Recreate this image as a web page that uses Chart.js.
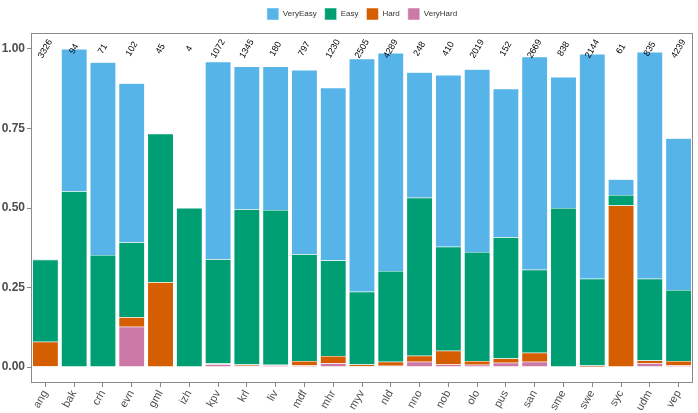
<!DOCTYPE html>
<html>
<head>
<meta charset="utf-8">
<script src="https://cdn.jsdelivr.net/npm/chart.js@4.4.1/dist/chart.umd.min.js"></script>
<style>
  html, body { margin: 0; padding: 0; background: #fff; }
  canvas { display: block; }
</style>
</head>
<body>
<canvas id="propChart" width="698" height="413"></canvas>
<script>
const languages = ['ang', 'bak', 'crh', 'evn', 'gml', 'izh', 'kpv', 'krl', 'liv', 'mdf', 'mhr', 'myv',
                   'nld', 'nno', 'nob', 'olo', 'pus', 'san', 'sme', 'swe', 'syc', 'udm', 'vep'];
const counts = ['3326', '94', '71', '102', '45', '4', '1072', '1345', '180', '797', '1230', '2505',
                '4289', '248', '410', '2019', '152', '2669', '838', '2144', '61', '835', '4239'];

// segment heights (proportions), bottom to top
const veryHard = [0.003, 0, 0, 0.127, 0, 0, 0.009, 0.004, 0.006, 0.005, 0.012, 0.003,
                  0.004, 0.017, 0.008, 0.007, 0.014, 0.017, 0, 0.001, 0, 0.011, 0.005];
const hard     = [0.077, 0, 0, 0.030, 0.267, 0, 0.002, 0.004, 0.001, 0.014, 0.023, 0.005,
                  0.013, 0.019, 0.043, 0.012, 0.013, 0.028, 0, 0.004, 0.508, 0.010, 0.014];
const easy     = [0.257, 0.553, 0.352, 0.235, 0.466, 0.5, 0.328, 0.488, 0.487, 0.336, 0.300, 0.229,
                  0.285, 0.496, 0.327, 0.343, 0.381, 0.261, 0.5, 0.273, 0.033, 0.257, 0.223];
const veryEasy = [0.003, 0.447, 0.606, 0.500, 0, 0, 0.621, 0.449, 0.451, 0.579, 0.543, 0.732,
                  0.685, 0.395, 0.540, 0.574, 0.467, 0.669, 0.412, 0.706, 0.049, 0.712, 0.477];

const yTicks = [0, 0.25, 0.5, 0.75, 1];

const sans = '"Liberation Sans", Arial, Helvetica, sans-serif';

// n of each language, written at y = 1
const countLabels = {
    id: 'countLabels',
    afterDatasetsDraw(chart) {
        const { ctx, scales: { x, y } } = chart;
        ctx.save();
        ctx.font = '9px ' + sans;
        ctx.fillStyle = '#000';
        ctx.textAlign = 'center';
        ctx.textBaseline = 'middle';
        counts.forEach((c, i) => {
            ctx.save();
            ctx.translate(x.getPixelForValue(i), y.getPixelForValue(1));
            ctx.rotate(-Math.PI / 3);
            ctx.fillText(c, 0, 0);
            ctx.restore();
        });
        ctx.restore();
    }
};

const panelBorder = {
    id: 'panelBorder',
    beforeLayout(chart) {
        // fixed legend band so the panel starts where the reference does
        const lg = chart.legend;
        if (lg && !lg._fixed) {
            const fit = lg.fit.bind(lg);
            lg.fit = function () { fit(); this.height = 33; };
            lg._fixed = true;
        }
    },
    afterDraw(chart) {
        const { ctx, chartArea: a } = chart;
        ctx.save();
        ctx.strokeStyle = '#8a8a8a';
        ctx.lineWidth = 1;
        ctx.strokeRect(a.left + 0.5, a.top + 0.5, a.right - a.left - 1, a.bottom - a.top - 1);
        ctx.restore();
    }
};

const ctx = document.getElementById('propChart').getContext('2d');
const propChart = new Chart(ctx, {
    type: 'bar',
    data: {
        labels: languages,
        datasets: [
            { label: 'VeryHard', data: veryHard, backgroundColor: '#CC79A7' },
            { label: 'Hard', data: hard, backgroundColor: '#D55E00' },
            { label: 'Easy', data: easy, backgroundColor: '#009E73' },
            { label: 'VeryEasy', data: veryEasy, backgroundColor: '#56B4E9' }
        ]
    },
    options: {
        responsive: false,
        animation: false,
        devicePixelRatio: 1,
        layout: { padding: { left: 0, right: 5, top: 0, bottom: 0 } },
        datasets: {
            bar: {
                categoryPercentage: 1,
                barPercentage: 0.9,
                borderColor: '#ffffff',
                borderWidth: 0.5
            }
        },
        plugins: {
            tooltip: { enabled: false },
            legend: {
                position: 'top',
                fullSize: false,
                reverse: true,
                labels: {
                    boxWidth: 12,
                    boxHeight: 12,
                    padding: 8,
                    color: '#333',
                    font: { family: sans, size: 8 }
                }
            }
        },
        scales: {
            x: {
                stacked: true,
                offset: true,
                border: { display: false },
                grid: { drawOnChartArea: false, drawTicks: true, tickLength: 4, color: '#888', offset: false },
                ticks: {
                    autoSkip: false,
                    minRotation: 60,
                    maxRotation: 60,
                    padding: 1,
                    color: '#4d4d4d',
                    font: { family: sans, size: 11 }
                },
                afterFit(scale) { scale.height = 30; }
            },
            y: {
                stacked: true,
                min: -0.05,
                max: 1.05,
                border: { display: false },
                grid: { drawOnChartArea: false, drawTicks: true, tickLength: 4, color: '#888' },
                afterBuildTicks(scale) { scale.ticks = yTicks.map(v => ({ value: v })); },
                ticks: {
                    padding: 2,
                    color: '#4d4d4d',
                    font: { family: sans, size: 12, weight: 'bold' },
                    callback: v => v.toFixed(2)
                },
                afterFit(scale) { scale.width = 31; }
            }
        }
    },
    plugins: [countLabels, panelBorder]
});
</script>
</body>
</html>
